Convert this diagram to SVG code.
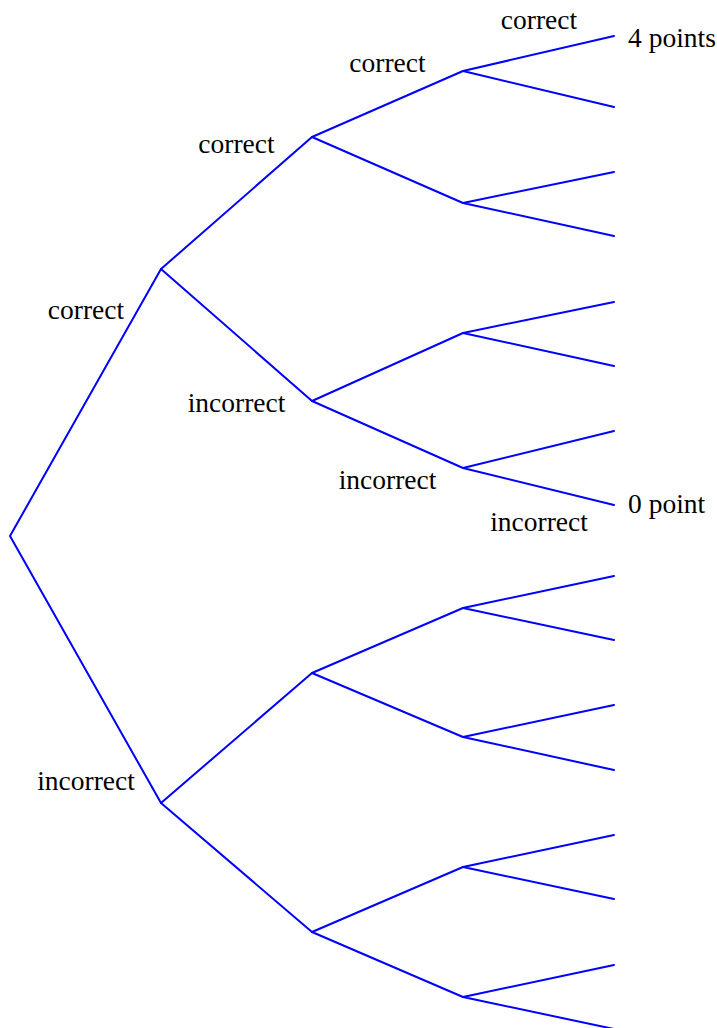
<svg xmlns="http://www.w3.org/2000/svg" width="717" height="1028" viewBox="0 0 717 1028">
<style>
.e{stroke:#0000ff;stroke-width:2;fill:none;stroke-linecap:round;stroke-linejoin:round}
.t{font-family:"Liberation Serif","Times New Roman",serif;font-size:27.5px;fill:#000}
.m{text-anchor:middle}
</style>
<rect width="717" height="1028" fill="#fff"/>
<g id="connectors" class="e">
<path d="M10,536L161,269M10,536L161,803"/>
<path d="M161,269L312,137M161,269L312,401M161,803L312,673M161,803L312,932"/>
<path d="M312,137L463,71M312,137L463,203M312,401L463,333M312,401L463,468M312,673L463,608M312,673L463,737M312,932L463,867M312,932L463,997"/>
<path d="M463,71L614,36M463,71L614,107M463,203L614,172M463,203L614,236M463,333L614,302M463,333L614,366M463,468L614,431M463,468L614,505"/>
<path d="M463,608L614,576M463,608L614,640M463,737L614,705M463,737L614,770M463,867L614,835M463,867L614,899M463,997L614,965M463,997L614,1029"/>
</g>
<g id="labels">
<text class="t m" x="86" y="319">correct</text>
<text class="t m" x="236.5" y="153">correct</text>
<text class="t m" x="387.5" y="72">correct</text>
<text class="t m" x="539" y="29">correct</text>
<text class="t" x="628" y="47">4 points</text>
<text class="t m" x="236.5" y="412">incorrect</text>
<text class="t m" x="387.5" y="489">incorrect</text>
<text class="t m" x="539" y="531">incorrect</text>
<text class="t" x="628" y="513">0 point</text>
<text class="t m" x="86" y="790">incorrect</text>
</g>
</svg>
